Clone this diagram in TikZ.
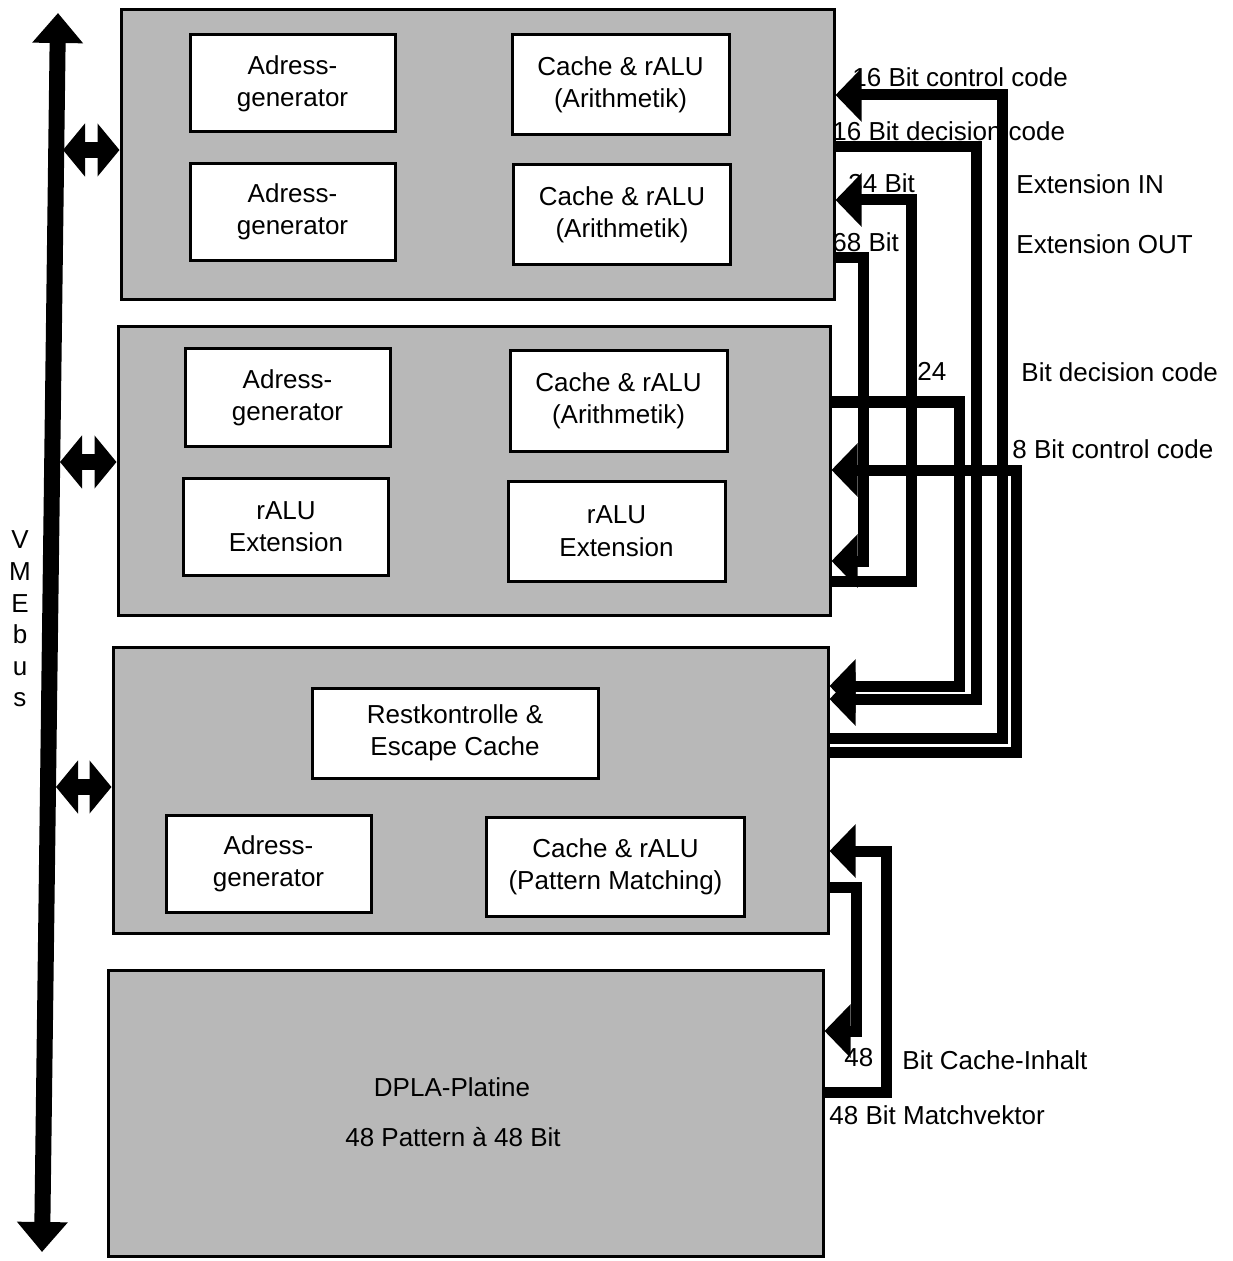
\documentclass[tikz,border=0pt]{standalone}
\usepackage{fontspec}
\setmainfont{Liberation Sans}
\usepackage{xcolor}
\usetikzlibrary{arrows.meta}
\definecolor{boardbg}{gray}{0.72}

\begin{document}
\begin{tikzpicture}[x=0.5pt,y=-0.5pt,
  font=\fontsize{13}{16.2}\selectfont,
  board/.style={draw,line width=1.5pt,fill=boardbg,inner sep=0pt},
  unit/.style={draw,line width=1.5pt,fill=white,align=center,minimum width=102.5pt,minimum height=48.5pt,inner sep=0pt},
  cache/.style={unit,minimum width=108.5pt,minimum height=50pt},
  lbl/.style={anchor=west,inner sep=0pt},
  sig/.style={line width=5.5pt,-{Triangle[width=26pt,length=13pt]}},
  sigout/.style={line width=5.5pt},
  vmebus/.style={line width=8pt,{Triangle[width=24.5pt,length=15pt]}-{Triangle[width=24.5pt,length=15pt]}},
  vmelink/.style={line width=8pt,{Triangle[width=26pt,length=11pt]}-{Triangle[width=26pt,length=11pt]}},
]
\useasboundingbox (0,0) rectangle (1232,1261);
% boards
\node[board,minimum width=356.5pt,minimum height=145pt] (b1) at (477.5,155) {};
\node[board,minimum width=356pt,minimum height=144pt] (b2) at (474,471) {};
\node[board,minimum width=357.5pt,minimum height=143pt] (b3) at (470.5,790) {};
\node[board,minimum width=357.5pt,minimum height=143pt] (b4) at (465.5,1113) {};
% board 1
\node[unit] (adr1) at (292.5,83.5) {Adress-\\generator};
\node[cache] (alu1) at (620.5,85) {Cache \& rALU\\(Arithmetik)};
\node[unit] (adr2) at (292.5,212) {Adress-\\generator};
\node[cache] (alu2) at (622,215) {Cache \& rALU\\(Arithmetik)};
% board 2
\node[unit] (adr3) at (287.5,397.5) {Adress-\\generator};
\node[cache] (alu3) at (618.5,401) {Cache \& rALU\\(Arithmetik)};
\node[unit] (ext1) at (286,526.5) {rALU\\Extension};
\node[cache] (ext2) at (616.5,531) {rALU\\Extension};
% board 3
\node[unit,minimum width=143pt,minimum height=45pt] (rest) at (455,733) {Restkontrolle \&\\Escape Cache};
\node[unit] (adr4) at (268.5,863.5) {Adress-\\generator};
\node[cache,minimum width=129pt,minimum height=49.5pt] (pm) at (615.5,866.5) {Cache \& rALU\\(Pattern Matching)};
% board 4
\node (dpla) at (452,1087) {DPLA-Platine};
\node (dplapat) at (453,1137) {48 Pattern \`a 48 Bit};
% VMEbus
\coordinate (vtop) at (58,13);
\coordinate (vbot) at (42,1252);
\draw[vmebus] (vtop) -- (vbot);
\node[align=center,font=\fontsize{13}{15.8}\selectfont] (vmetxt) at (20,619) {V\\M\\E\\b\\u\\s};
\coordinate (p1) at (63,150);
\coordinate (p2) at (60,462);
\coordinate (p3) at (56,787);
\draw[vmelink] (p1) -- (b1.west |- p1);
\draw[vmelink] (p2) -- (b2.west |- p2);
\draw[vmelink] (p3) -- (b3.west |- p3);
% signal labels
\node[lbl] (lctrl16) at (852,77) {16 Bit control code};
\node[lbl] (ldec16) at (832,131) {16 Bit decision code};
\node[lbl] (l34) at (848,183) {34 Bit};
\node[lbl] (l68) at (832,242) {68 Bit};
\node[lbl] (lextin) at (1016,184) {Extension IN};
\node[lbl] (lextout) at (1016,244) {Extension OUT};
\node[lbl] (l24) at (917,371) {24};
\node[lbl] (ldec24) at (1021,372) {Bit decision code};
\node[lbl] (lctrl8) at (1012,449) {8 Bit control code};
\node[lbl] (l48) at (844,1058) {48};
\node[lbl] (lcache) at (902,1060) {Bit Cache-Inhalt};
\node[lbl] (lmatch) at (829,1115) {48 Bit Matchvektor};
% signal wires
\draw[sig] (b3.east |- 0,738) -| (1002,95) -- (b1.east |- 0,95);
\draw[sig] (b3.east |- 0,752) -| (1016,470) -- (b2.east |- 0,470);
\draw[sig] (b1.east |- 0,147) -| (976,699) -- (b3.east |- 0,699);
\draw[sig] (b2.east |- 0,402) -| (959,686) -- (b3.east |- 0,686);
\draw[sig] (b2.east |- 0,581) -| (911,200) -- (b1.east |- 0,200);
\draw[sig] (b1.east |- 0,258) -| (863,561) -- (b2.east |- 0,561);
\draw[sig] (b4.east |- 0,1092) -| (886,851) -- (b3.east |- 0,851);
\draw[sig] (b3.east |- 0,887) -| (856,1031) -- (b4.east |- 0,1031);
\end{tikzpicture}
\end{document}
